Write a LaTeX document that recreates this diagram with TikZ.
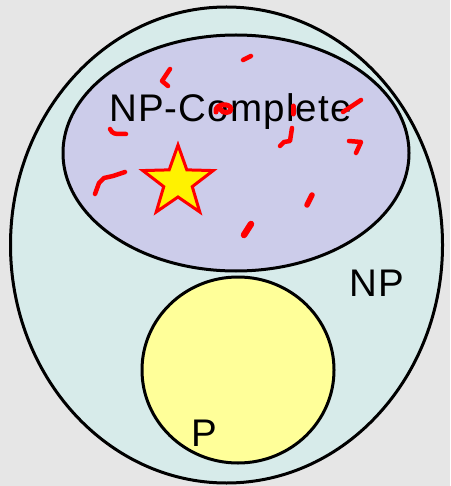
\documentclass[tikz,border=0pt]{standalone}
\definecolor{vennGray}{RGB}{230,230,230}
\definecolor{vennCyan}{RGB}{215,235,234}
\definecolor{vennLilac}{RGB}{204,204,234}
\definecolor{vennYellow}{RGB}{255,255,153}
\usepackage{fontspec}
\setmainfont{Liberation Sans}
\usetikzlibrary{positioning}

\begin{document}
\begin{tikzpicture}[x=1pt, y=-1pt,
    set/.style={draw=black, line width=3pt},
    scribble/.style={red, line width=4.5pt, line cap=round, line join=round},
    lbl/.style={anchor=base west, inner sep=0pt,
                font=\fontsize{38.5}{40}\selectfont\addfontfeature{LetterSpace=3}}
  ]
  \fill[vennGray] (0,0) rectangle (450,486);
  \useasboundingbox (0,0) rectangle (450,486);

  % the three sets
  \draw[set, fill=vennCyan]   (226.5,245) ellipse (216 and 238);
  \draw[set, fill=vennLilac]  (236,153)   ellipse (173 and 118);
  \draw[set, fill=vennYellow] (238,370)   ellipse (96 and 93);

  \node[lbl] (npc) at (109,122) {NP-Complete};
  \node[lbl] (np)  at (349,296) {NP};
  \node[lbl] (p)   at (191,446) {P};

  % red marks
  \draw[scribble] (243,60) -- (251,56);
  \draw[scribble] (170,69) -- (162,81) -- (168,86);
  \draw[scribble] (110,129) .. controls (113,134) .. (126,134);
  \draw[scribble, line width=5pt] (216,112) .. controls (214,104) and (230,102) .. (231,109)
        .. controls (231,114) and (222,113) .. (221,110);
  \draw[scribble, line width=5pt] (293,106) -- (293,114);
  \draw[scribble] (343,112) -- (361,100);
  \draw[scribble] (292,128) -- (290,141) -- (284,142) -- (280,146);
  \draw[scribble] (349,141) -- (361,142) -- (356,153);
  \draw[scribble] (95,194) -- (99,183) -- (104,178) -- (113,176) -- (125,172);
  \draw[scribble, line width=5.5pt] (312,195) -- (307,205);
  \draw[scribble, line width=6.5pt] (251,224) -- (244,235);

  % the star
  \draw[red, fill=yellow, line width=3pt, line join=miter, shift={(178,182)}]
    (-90:37) -- (-54:15) -- (-18:37) -- (18:15) -- (54:37) -- (90:15)
    -- (126:37) -- (162:15) -- (198:37) -- (234:15) -- cycle;
\end{tikzpicture}
\end{document}
